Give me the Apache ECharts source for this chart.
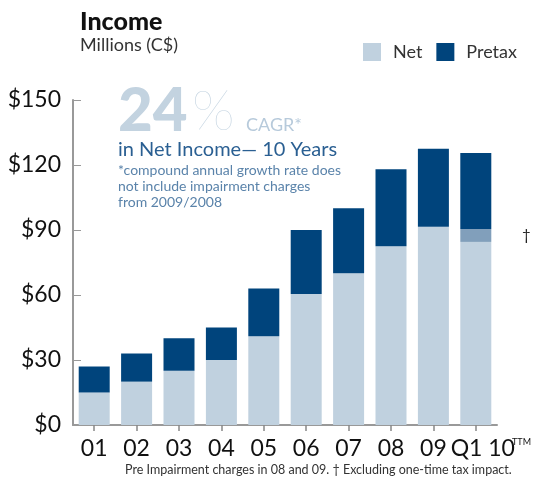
<!DOCTYPE html>
<html>
<head>
<meta charset="utf-8">
<script src="https://cdn.jsdelivr.net/npm/echarts@6/dist/echarts.min.js"></script>
<style>
    html, body { margin: 0; padding: 0; background: #fff; }
    #chart { width: 555px; height: 480px; }
</style>
</head>
<body>
<div id="chart"></div>
<script>
const years = ['01', '02', '03', '04', '05', '06', '07', '08', '09', 'Q1 10']
const netIncome = [15, 20, 25, 30, 41, 60.5, 70, 82.5, 91.5, 84.5]
const taxImpact = [0, 0, 0, 0, 0, 0, 0, 0, 0, 6]
const pretaxIncome = [27, 33, 40, 45, 63, 90, 100, 118, 127.5, 125.5]
const yTicks = [0, 30, 60, 90, 120, 150]

const NET_COLOR = '#c0d1df'
const TAX_COLOR = '#819fbb'
const PRETAX_COLOR = '#00447c'
const FONT = 'Lato, "Noto Sans", sans-serif'

// pretax drawn as the remainder on top of net (+ tax impact)
const pretaxRest = pretaxIncome.map((v, i) => +(v - netIncome[i] - taxImpact[i]).toFixed(2))

const chart = echarts.init(document.getElementById('chart'))

chart.setOption({
    animation: false,
    textStyle: { fontFamily: FONT },
    title: {
        text: 'Income',
        subtext: 'Millions (C$)',
        left: 75,
        top: 4,
        itemGap: 2,
        textStyle: { fontFamily: FONT, fontSize: 25, fontWeight: 900, color: '#111' },
        subtextStyle: { fontFamily: FONT, fontSize: 18, color: '#333' }
    },
    legend: {
        data: ['Net', 'Pretax'],
        left: 358,
        top: 38,
        itemWidth: 18,
        itemHeight: 18,
        itemGap: 14,
        icon: 'rect',
        textStyle: { fontFamily: FONT, fontSize: 18, color: '#333', padding: [0, 0, 0, 7] }
    },
    grid: { left: 73, right: 58, top: 100, bottom: 55 },
    xAxis: {
        type: 'category',
        data: years,
        axisLine: { lineStyle: { color: '#999', width: 2 } },
        axisTick: { show: true, alignWithLabel: true, length: 6, lineStyle: { color: '#888', width: 1.5 } },
        axisLabel: {
            interval: 0,
            hideOverlap: false,
            fontSize: 23,
            color: '#111',
            margin: 12,
            // last label sits a little right of its tick, as in the original
            formatter: v => v === 'Q1 10' ? '{q|Q1 10}' : v,
            rich: { q: { fontSize: 23, color: '#111', padding: [0, 0, 0, 14] } }
        }
    },
    yAxis: {
        type: 'value',
        min: 0,
        max: 150,
        interval: 30,
        axisLine: { show: true, lineStyle: { color: '#999', width: 2 } },
        axisTick: { show: true, inside: true, length: 8, lineStyle: { color: '#999' } },
        splitLine: { show: false },
        axisLabel: {
            fontSize: 23,
            color: '#111',
            margin: 12,
            customValues: yTicks,
            formatter: v => '$' + v
        }
    },
    series: [
        {
            name: 'Net',
            type: 'bar',
            stack: 'total',
            barWidth: 31,
            itemStyle: { color: NET_COLOR },
            data: netIncome
        },
        {
            name: 'Tax impact',
            type: 'bar',
            stack: 'total',
            barWidth: 31,
            itemStyle: { color: TAX_COLOR },
            data: taxImpact
        },
        {
            name: 'Pretax',
            type: 'bar',
            stack: 'total',
            barWidth: 31,
            itemStyle: { color: PRETAX_COLOR },
            data: pretaxRest
        }
    ],
    graphic: [
        {
            type: 'text',
            left: 118,
            top: 82,
            style: { text: '24', font: '900 60px ' + FONT, fill: '#c3d3e0' }
        },
        {
            type: 'text',
            left: 192,
            top: 84,
            style: { text: '%', font: '200 56px ' + FONT, fill: '#c3d3e0' }
        },
        {
            type: 'text',
            left: 246,
            top: 116,
            style: { text: 'CAGR*', font: '18px ' + FONT, fill: '#b7cadb' }
        },
        {
            type: 'text',
            left: 118,
            top: 140,
            style: { text: 'in Net Income\u2014 10 Years', font: '20px ' + FONT, fill: '#2a5f92' }
        },
        {
            type: 'text',
            left: 118,
            top: 162,
            style: {
                text: '*compound annual growth rate does\nnot include impairment charges\nfrom 2009/2008',
                font: '14px ' + FONT,
                lineHeight: 16,
                fill: '#5a83aa'
            }
        },
        {
            type: 'text',
            left: 522,
            top: 228,
            style: { text: '\u2020', font: '15px ' + FONT, fill: '#222' }
        },
        {
            type: 'text',
            left: 512,
            top: 438,
            style: { text: 'TTM', font: '9px ' + FONT, fill: '#111' }
        },
        {
            type: 'text',
            left: 125,
            top: 463,
            style: {
                text: 'Pre Impairment charges in 08 and 09. \u2020 Excluding one-time tax impact.',
                font: '12.5px ' + FONT,
                fill: '#333'
            }
        }
    ]
})
</script>
</body>
</html>
